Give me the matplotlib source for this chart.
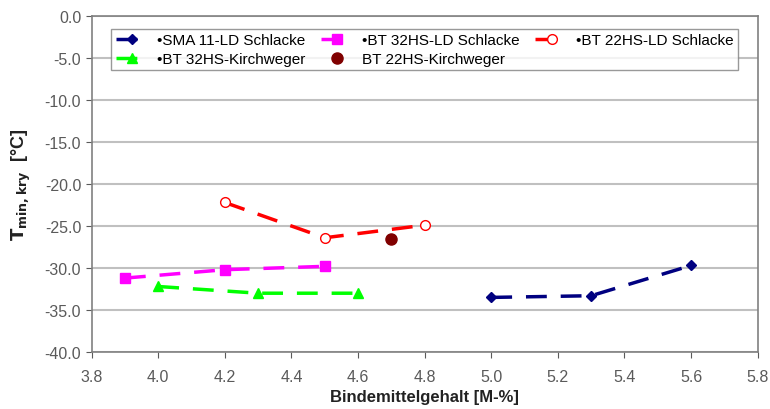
import matplotlib
matplotlib.use("Agg")
import matplotlib.pyplot as plt

plt.rcParams['font.family'] = ['Liberation Sans', 'DejaVu Sans']

# data
sma_x = [5.0, 5.3, 5.6]
sma_y = [-33.5, -33.3, -29.7]
bt32ld_x = [3.9, 4.2, 4.5]
bt32ld_y = [-31.2, -30.2, -29.8]
bt22ld_x = [4.2, 4.5, 4.8]
bt22ld_y = [-22.2, -26.4, -24.9]
bt32k_x = [4.0, 4.3, 4.6]
bt32k_y = [-32.2, -33.0, -33.0]
bt22k_x = [4.7]
bt22k_y = [-26.6]

labels = ["\u2022SMA 11-LD Schlacke", "\u2022BT 32HS-LD Schlacke",
          "\u2022BT 22HS-LD Schlacke", "\u2022BT 32HS-Kirchweger",
          "BT 22HS-Kirchweger"]
xticks = [3.8, 4.0, 4.2, 4.4, 4.6, 4.8, 5.0, 5.2, 5.4, 5.6, 5.8]
yticks = [0, -5, -10, -15, -20, -25, -30, -35, -40]

fig = plt.figure(figsize=(7.7, 4.1), dpi=100)
ax = fig.add_axes([0.119, 0.139, 0.865, 0.8195])

dash = (0, (6, 4))
h1, = ax.plot(sma_x, sma_y, color='#000080', lw=2.5, ls=dash, marker='D', ms=5,
              label=labels[0])
h2, = ax.plot(bt32ld_x, bt32ld_y, color='#ff00ff', lw=2.5, ls=dash, marker='s', ms=7,
              label=labels[1])
h3, = ax.plot(bt22ld_x, bt22ld_y, color='#ff0000', lw=2.5, ls=dash, marker='o', ms=7,
              mfc='white', mec='#ff0000', mew=1, label=labels[2])
h4, = ax.plot(bt32k_x, bt32k_y, color='#00ff00', lw=2.5, ls=dash, marker='^', ms=7,
              label=labels[3])
h5, = ax.plot(bt22k_x, bt22k_y, ls='none', marker='o', ms=8, color='#800000',
              label=labels[4])

ax.set_xlim(3.8, 5.8)
ax.set_ylim(-40, 0)
ax.set_xticks(xticks)
ax.set_xticklabels([f"{v:.1f}" for v in xticks])
ax.set_yticks(yticks)
ax.set_yticklabels([f"{v:.1f}" for v in yticks])
ax.tick_params(colors='#5a5a5a', labelsize=11.5, length=4, direction='out')
ax.tick_params(axis='x', pad=8)
ax.grid(axis='y', color='#c0c0c0', lw=1.5)
ax.set_axisbelow(True)
for s in ax.spines.values():
    s.set_color('#808080')
    s.set_linewidth(1.2)

ax.set_xlabel("Bindemittelgehalt [M-%]", fontsize=12, fontweight='bold', color='#222222')
ax.set_ylabel(r"$\mathbf{T_{min,kry}}$  [°C]", fontsize=13, fontweight='bold', color='#222222',
              labelpad=8)

leg = ax.legend([h1, h4, h2, h5, h3],
                [labels[0], labels[3], labels[1], labels[4], labels[2]],
                ncol=3, loc='upper center', bbox_to_anchor=(0.5, 0.985),
                fontsize=11, frameon=True, fancybox=False, borderpad=0.3,
                handlelength=2.2, columnspacing=1.0, labelspacing=0.3,
                handletextpad=0.5)
leg.get_frame().set_edgecolor('#808080')
leg.get_frame().set_linewidth(1.0)

fig.savefig("out.png", dpi=100)
